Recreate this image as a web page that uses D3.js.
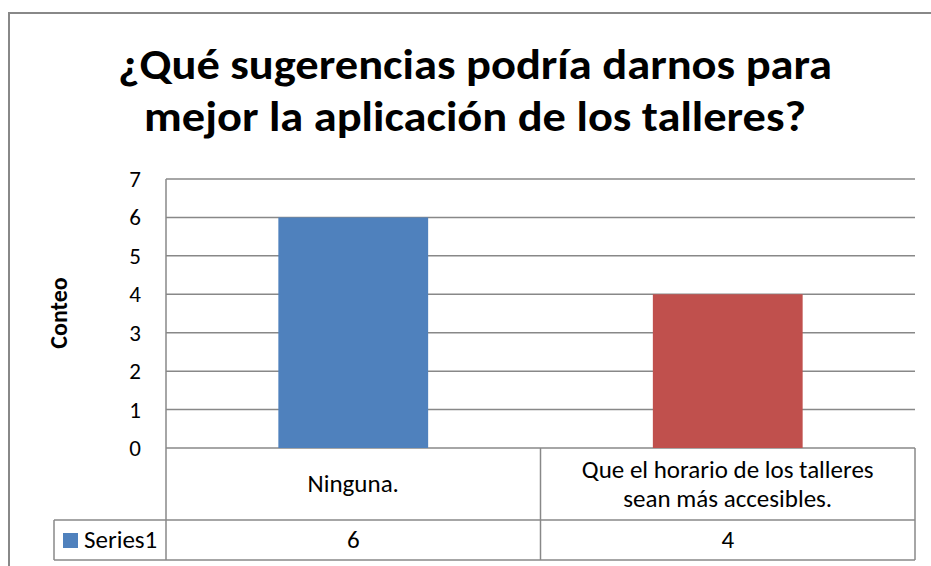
<!DOCTYPE html>
<html>
<head>
<meta charset="utf-8">
<script src="https://cdn.jsdelivr.net/npm/d3@7"></script>
<style>
  body { margin: 0; background: #fff; }
  text { font-family: Carlito, Lato, "Open Sans", sans-serif; fill: #000; }
</style>
</head>
<body>
<svg id="chart" width="931" height="566"></svg>
<script>
// data
const categories = ["Ninguna.", "Que el horario de los talleres sean más accesibles."];
const categoryLines = [["Ninguna."], ["Que el horario de los talleres", "sean más accesibles."]];
const series1 = [6, 4];
const barColors = ["#4F81BD", "#C0504D"];
const yTicks = [0, 1, 2, 3, 4, 5, 6, 7];
const seriesName = "Series1";
const titleLines = ["¿Qué sugerencias podría darnos para", "mejor la aplicación de los talleres?"];

let svg = d3.select("#chart");
const grid = "#888888";

// outer frame
svg.append("rect")
    .attr("x", 9).attr("y", 13)
    .attr("width", 940).attr("height", 600)
    .attr("fill", "none").attr("stroke", grid).attr("stroke-width", 2);

let plotLeft = 166, plotRight = 915, plotTop = 179, plotBottom = 448;

let x = d3.scaleBand().domain(categories).range([plotLeft, plotRight]).paddingInner(0.6).paddingOuter(0.3);
let band = d3.scaleBand().domain(categories).range([plotLeft, plotRight]);
let y = d3.scaleLinear().domain([0, 7]).range([plotBottom, plotTop]);

// gridlines
svg.append("g").selectAll("line")
    .data(yTicks)
    .join("line")
    .attr("x1", plotLeft).attr("x2", plotRight)
    .attr("y1", d => y(d)).attr("y2", d => y(d))
    .attr("stroke", grid).attr("stroke-width", 1.5);

// y tick labels
svg.append("g").selectAll("text")
    .data(yTicks)
    .join("text")
    .attr("x", 141).attr("y", d => y(d) + 8)
    .attr("text-anchor", "end")
    .style("font-size", "23px")
    .text(d => d);

// bars
svg.append("g").selectAll("rect")
    .data(series1)
    .join("rect")
    .attr("x", (d, i) => x(categories[i]))
    .attr("width", x.bandwidth())
    .attr("y", d => y(d))
    .attr("height", d => y(0) - y(d))
    .attr("fill", (d, i) => barColors[i]);

// data table
let rowTop = plotBottom, rowMid = 520, rowBot = 560, tableLeft = 54;
let tbl = svg.append("g").attr("stroke", grid).attr("stroke-width", 1.5);
tbl.append("line").attr("x1", plotLeft).attr("x2", plotLeft).attr("y1", plotTop).attr("y2", rowBot);
tbl.append("line").attr("x1", plotRight).attr("x2", plotRight).attr("y1", rowTop).attr("y2", rowBot);
tbl.append("line").attr("x1", band(categories[1])).attr("x2", band(categories[1])).attr("y1", rowTop).attr("y2", rowBot);
tbl.append("line").attr("x1", tableLeft).attr("x2", plotRight).attr("y1", rowMid).attr("y2", rowMid);
tbl.append("line").attr("x1", tableLeft).attr("x2", plotRight).attr("y1", rowBot).attr("y2", rowBot);
tbl.append("line").attr("x1", tableLeft).attr("x2", tableLeft).attr("y1", rowMid).attr("y2", rowBot);

// category labels
categoryLines.forEach((lines, i) => {
    let cx = band(categories[i]) + band.bandwidth() / 2;
    let start = (rowTop + rowMid) / 2 - (lines.length - 1) * 14.5 + 8;
    lines.forEach((t, j) => {
        svg.append("text")
            .attr("x", cx).attr("y", start + j * 29)
            .attr("text-anchor", "middle")
            .style("font-size", "25px")
            .text(t);
    });
});

// values row
svg.append("g").selectAll("text")
    .data(series1)
    .join("text")
    .attr("x", (d, i) => band(categories[i]) + band.bandwidth() / 2)
    .attr("y", 548)
    .attr("text-anchor", "middle")
    .style("font-size", "25px")
    .text(d => d);

// legend key
svg.append("rect").attr("x", 63).attr("y", 533).attr("width", 15).attr("height", 15).attr("fill", barColors[0]);
svg.append("text").attr("x", 84).attr("y", 548).style("font-size", "25px").text(seriesName);

// axis title
svg.append("text")
    .attr("transform", "translate(67,313) rotate(-90)")
    .attr("text-anchor", "middle")
    .style("font-size", "24px").style("font-weight", "bold")
    .text("Conteo");

// chart title
const titleWidths = [714, 662];
svg.append("g").selectAll("text")
    .data(titleLines)
    .join("text")
    .attr("x", 475).attr("y", (d, i) => 79 + i * 52)
    .attr("text-anchor", "middle")
    .attr("textLength", (d, i) => titleWidths[i])
    .attr("lengthAdjust", "spacingAndGlyphs")
    .style("font-size", "43px").style("font-weight", "bold")
    .text(d => d);
</script>
</body>
</html>
